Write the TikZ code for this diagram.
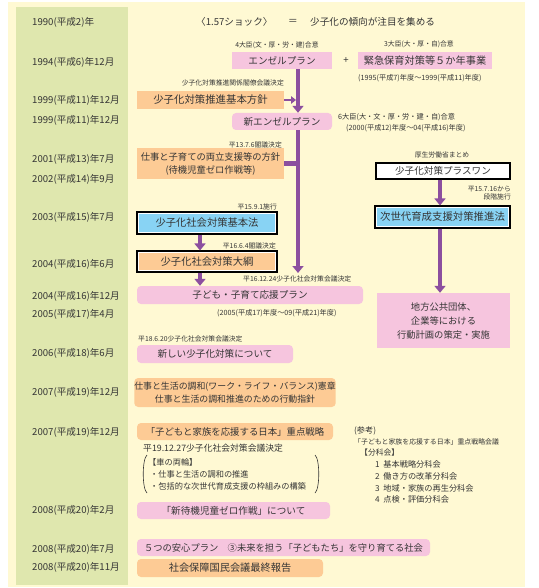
\documentclass[tikz,border=0pt]{standalone}
\usepackage{fontspec}
\setmainfont{Noto Sans CJK JP}
\usetikzlibrary{arrows.meta}
\definecolor{cream}{HTML}{FFF9D3}
\definecolor{greenc}{HTML}{DFE7AE}
\definecolor{pinkc}{HTML}{F6C5DE}
\definecolor{orangec}{HTML}{FDCB95}
\definecolor{bluec}{HTML}{88D3F4}
\definecolor{purplec}{HTML}{8C4F9F}
\definecolor{txt}{HTML}{353535}
\begin{document}
\begin{tikzpicture}[x=1pt,y=-1pt,
  yr/.style={anchor=west,inner sep=0,text=txt,font=\fontsize{9.6}{10}\selectfont},
  capt/.style={inner sep=0,text=txt,font=\fontsize{6.8}{8}\selectfont},
  captb/.style={inner sep=0,text=txt,font=\fontsize{8.2}{10}\selectfont},
  bx/.style={inner sep=0,text=txt,align=center,font=\fontsize{9.6}{13.5}\selectfont},
  pbox/.style={bx,fill=pinkc},
  obox/.style={bx,fill=orangec},
  rnd/.style={rounded corners=4pt},
  frm/.style={inner sep=0,draw=black,line width=1.1pt,fill=white},
  parr/.style={draw=purplec,line width=4.5pt,-{Triangle[length=7pt,width=11pt]}},
  pline/.style={draw=purplec,line width=4.5pt}]
\useasboundingbox (0,0) rectangle (538,588);
\fill[cream] (8,2) rectangle (525,587);
\fill[greenc] (16,7) rectangle (128,585);
% year labels
\node[yr] (y1) at (32,22) {1990(平成2)年};
\node[yr] (y2) at (32,62) {1994(平成6)年12月};
\node[yr] (y3) at (32,100) {1999(平成11)年12月};
\node[yr] (y4) at (32,120) {1999(平成11)年12月};
\node[yr] (y5) at (32,159) {2001(平成13)年7月};
\node[yr] (y6) at (32,179) {2002(平成14)年9月};
\node[yr] (y7) at (32,217) {2003(平成15)年7月};
\node[yr] (y8) at (32,264) {2004(平成16)年6月};
\node[yr] (y9) at (32,296) {2004(平成16)年12月};
\node[yr] (y10) at (32,314) {2005(平成17)年4月};
\node[yr] (y11) at (32,353) {2006(平成18)年6月};
\node[yr] (y12) at (32,392) {2007(平成19)年12月};
\node[yr] (y13) at (32,432) {2007(平成19)年12月};
\node[yr] (y14) at (32,510) {2008(平成20)年2月};
\node[yr] (y15) at (32,549) {2008(平成20)年7月};
\node[yr] (y16) at (32,567) {2008(平成20)年11月};
% title line
\node[bx,anchor=west] (t1) at (196,22) {〈1.57ショック〉};
\node[bx] (t2) at (293,22) {＝};
\node[bx,anchor=west] (t3) at (310,22) {少子化の傾向が注目を集める};
% 1994
\node[capt] (c1) at (277,45) {4大臣(文・厚・労・建)合意};
\node[pbox,minimum width=100pt,minimum height=17pt] (angel) at (282,60.5) {エンゼルプラン};
\node[bx] (plus) at (346,61) {+};
\node[capt] (c2) at (419,44) {3大臣(大・厚・自)合意};
\node[pbox,minimum width=134pt,minimum height=17pt,font=\fontsize{10.2}{12}\selectfont] (kinkyu) at (425,60.5) {緊急保育対策等５か年事業};
\node[capt,anchor=west,font=\fontsize{7.2}{8}\selectfont] (c3) at (358,78) {(1995(平成7)年度〜1999(平成11)年度)};
% 1999
\node[capt,anchor=east] (c4) at (284,83) {少子化対策推進関係閣僚会議決定};
\node[obox,minimum width=147pt,minimum height=18pt,font=\fontsize{10.4}{12}\selectfont] (kihon) at (210.5,100) {少子化対策推進基本方針};
\node[pbox,rnd,minimum width=100pt,minimum height=17pt] (newangel) at (282,121.5) {新エンゼルプラン};
\node[capt,anchor=west,font=\fontsize{7.2}{8}\selectfont] (c5) at (338,117) {6大臣(大・文・厚・労・建・自)合意};
\node[capt,anchor=west,font=\fontsize{7.2}{8}\selectfont] (c6) at (346,128) {(2000(平成12)年度〜04(平成16)年度)};
% 2001
\node[capt,anchor=east] (c7) at (282,145) {平13.7.6閣議決定};
\node[obox,minimum width=147pt,minimum height=31pt,font=\fontsize{9.3}{13}\selectfont] (shigoto) at (210.5,163.5) {仕事と子育ての両立支援等の方針\\(待機児童ゼロ作戦等)};
% 2003
\node[capt,anchor=east] (c8) at (277,207) {平15.9.1施行};
\node[frm,minimum width=140pt,minimum height=22pt] (kihonhoF) at (207,223) {};
\node[bx,fill=bluec,minimum width=136pt,minimum height=18pt,font=\fontsize{10.3}{12}\selectfont] (kihonho) at (207,223) {少子化社会対策基本法};
\node[capt,anchor=east] (c9) at (276,246) {平16.6.4閣議決定};
\node[frm,minimum width=140pt,minimum height=21pt] (taikoF) at (207,261.5) {};
\node[obox,minimum width=136pt,minimum height=17pt,font=\fontsize{10.3}{12}\selectfont] (taiko) at (207,261.5) {少子化社会対策大綱};
\node[capt,anchor=west] (c10) at (243,279) {平16.12.24少子化社会対策会議決定};
\node[pbox,rnd,minimum width=226pt,minimum height=18pt] (ouen) at (250,295) {子ども・子育て応援プラン};
\node[capt,anchor=west,font=\fontsize{7.2}{8}\selectfont] (c11) at (217,313) {(2005(平成17)年度〜09(平成21)年度)};
% right column
\node[capt] (c12) at (442,155) {厚生労働省まとめ};
\node[bx,draw=black,line width=1.1pt,fill=white,minimum width=134pt,minimum height=16pt] (plusone) at (443,171) {少子化対策プラスワン};
\node[capt,anchor=east,align=right] (c13) at (511,193) {平15.7.16から\\段階施行};
\node[frm,minimum width=135pt,minimum height=22pt] (jisedaiF) at (442.5,217) {};
\node[bx,fill=bluec,minimum width=131pt,minimum height=18pt,font=\fontsize{10.4}{12}\selectfont] (jisedai) at (442.5,217) {次世代育成支援対策推進法};
\node[pbox,minimum width=133pt,minimum height=55pt,font=\fontsize{9.3}{14}\selectfont] (chiho) at (443.5,320.5) {地方公共団体、\\企業等における\\行動計画の策定・実施};
% 2006
\node[capt,anchor=west] (c14) at (138,339) {平18.6.20少子化社会対策会議決定};
\node[pbox,rnd,minimum width=156pt,minimum height=18pt] (atarashii) at (215,354) {新しい少子化対策について};
% 2007
\node[obox,rnd,minimum width=196pt,minimum height=29pt,font=\fontsize{8.9}{13.5}\selectfont] (wlb) at (235,392.5) {仕事と生活の調和(ワーク・ライフ・バランス)憲章\\仕事と生活の調和推進のための行動指針};
\node[obox,rnd,minimum width=196pt,minimum height=17pt,font=\fontsize{9.4}{12}\selectfont] (nihon) at (235,431.5) {「子どもと家族を応援する日本」重点戦略};
\node[captb,anchor=west,font=\fontsize{8.8}{10}\selectfont] (c15) at (143,448) {平19.12.27少子化社会対策会議決定};
\node[captb,anchor=west] (k1) at (148,462) {【車の両輪】};
\node[captb,anchor=west] (k2) at (150,474) {・仕事と生活の調和の推進};
\node[captb,anchor=west] (k3) at (150,486) {・包括的な次世代育成支援の枠組みの構築};
\draw[txt,line width=0.6pt] (147,455) .. controls (142,459) and (142,489) .. (147,493);
\draw[txt,line width=0.6pt] (315,455) .. controls (320,459) and (320,489) .. (315,493);
% reference block
\node[captb,anchor=west] (r1) at (354,431) {(参考)};
\node[capt,anchor=west,font=\fontsize{6.9}{8}\selectfont] (r2) at (354,442) {「子どもと家族を応援する日本」重点戦略会議};
\node[captb,anchor=west,font=\fontsize{7.8}{9}\selectfont] (r3) at (360,453) {【分科会】};
\node[captb,anchor=west] (r4) at (375,464) {1\ \ 基本戦略分科会};
\node[captb,anchor=west] (r5) at (375,476) {2\ \ 働き方の改革分科会};
\node[captb,anchor=west] (r6) at (375,488) {3\ \ 地域・家族の再生分科会};
\node[captb,anchor=west] (r7) at (375,499) {4\ \ 点検・評価分科会};
% 2008
\node[pbox,rnd,minimum width=193pt,minimum height=17pt] (zero) at (233.5,510.5) {「新待機児童ゼロ作戦」について};
\node[pbox,rnd,minimum width=293pt,minimum height=17pt,font=\fontsize{9.3}{12}\selectfont] (anshin) at (283.5,547.5) {５つの安心プラン　③未来を担う「子どもたち」を守り育てる社会};
\node[obox,rnd,minimum width=186pt,minimum height=18pt,font=\fontsize{10.2}{12}\selectfont] (kokumin) at (230,568) {社会保障国民会議最終報告};
% connectors
\coordinate (vl) at (298,0);
\coordinate (tip1) at (298,273);
\coordinate (ax) at (200,0);
\draw[parr] (angel.south -| vl) -- (newangel.north -| vl);
\draw[draw=purplec,line width=2.6pt,-{Triangle[length=5pt,width=7.5pt]}] (kihon.east) -- ([xshift=-2pt]kihon.east -| vl);
\draw[parr] (newangel.south -| vl) -- (tip1);
\draw[pline] (shigoto.east) -- (shigoto.east -| vl);
\draw[parr] (kihonhoF.south -| ax) -- (taikoF.north -| ax);
\draw[parr] (taikoF.south -| ax) -- (ouen.north -| ax);
\coordinate (rx) at (440,0);
\draw[parr] (plusone.south -| rx) -- (jisedaiF.north -| rx);
\draw[parr] (jisedaiF.south -| rx) -- (chiho.north -| rx);
\end{tikzpicture}
\end{document}
